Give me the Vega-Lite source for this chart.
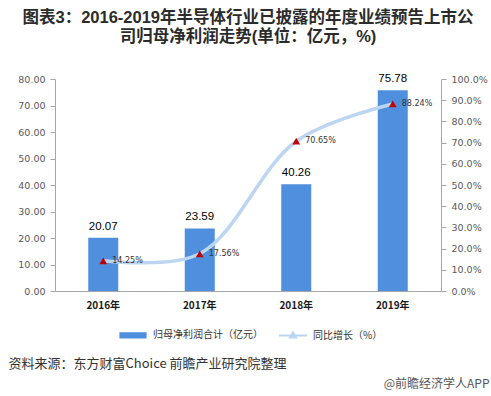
{
  "$schema": "https://vega.github.io/schema/vega-lite/v6.json",
  "width": 386,
  "height": 212,
  "autosize": {"type": "none"},
  "padding": {"left": 55, "top": 79, "right": 50, "bottom": 105},
  "background": "white",
  "config": {
    "view": {"stroke": null},
    "font": "Noto Sans CJK SC"
  },
  "title": {
    "text": ["图表3：2016-2019年半导体行业已披露的年度业绩预告上市公", "司归母净利润走势(单位：亿元，%)"],
    "font": "Liberation Sans, Noto Sans CJK SC",
    "fontSize": 16.5,
    "fontWeight": "bold",
    "color": "#2b2b2b",
    "lineHeight": 18.5,
    "anchor": "middle",
    "frame": "group",
    "offset": 28
  },
  "data": {
    "values": [
      {"year": "2016年", "profit": 20.07, "growth": 0.1425},
      {"year": "2017年", "profit": 23.59, "growth": 0.1756},
      {"year": "2018年", "profit": 40.26, "growth": 0.7065},
      {"year": "2019年", "profit": 75.78, "growth": 0.8824}
    ]
  },
  "layer": [
    {
      "encoding": {
        "x": {
          "field": "year", "type": "nominal", "sort": null,
          "scale": {"paddingInner": 0, "paddingOuter": 0},
          "axis": {
            "title": "资料来源：东方财富Choice 前瞻产业研究院整理",
            "titleFont": "Noto Sans CJK SC",
            "titleFontSize": 13,
            "titleFontWeight": "normal",
            "titleColor": "#333333",
            "titleAlign": "left",
            "titleBaseline": "middle",
            "titleAnchor": null,
            "titleX": -47,
            "titleY": 72,
            "labelAngle": 0,
            "labelFont": "Noto Sans CJK SC",
            "labelFontSize": 10,
            "labelFontWeight": "bold",
            "labelColor": "#1a1a1a",
            "labelPadding": 9,
            "ticks": false,
            "domainColor": "#a6a6a6",
            "domainWidth": 1
          }
        },
        "y": {
          "field": "profit", "type": "quantitative",
          "scale": {"domain": [0, 80], "nice": false},
          "axis": {
            "title": null,
            "values": [0, 10, 20, 30, 40, 50, 60, 70, 80],
            "format": ".2f",
            "grid": false,
            "labelOverlap": false,
            "labelFlush": false,
            "labelFont": "DejaVu Sans",
            "labelFontSize": 9.5,
            "labelColor": "#595959",
            "labelPadding": 5,
            "tickSize": 5,
            "tickColor": "#a6a6a6",
            "domainColor": "#a6a6a6"
          }
        }
      },
      "layer": [
        {
          "mark": {"type": "bar", "width": 30},
          "encoding": {
            "color": {
              "datum": "归母净利润合计（亿元）",
              "type": "nominal",
              "scale": {
                "domain": ["归母净利润合计（亿元）", "同比增长（%）"],
                "range": ["#4f8fdd", "#bcd5f0"]
              },
              "legend": {
                "title": null,
                "orient": "none",
                "direction": "horizontal",
                "legendX": 63,
                "legendY": 241,
                "symbolSize": 784,
                "labelFont": "Noto Sans CJK SC",
                "labelFontSize": 10,
                "labelColor": "#333333",
                "labelOffset": 5,
                "columnPadding": 12,
                "encode": {
                  "symbols": {
                    "update": {
                      "shape": {"signal": "datum.value === '归母净利润合计（亿元）' ? 'M-0.9,-0.15H0.9V0.15H-0.9Z' : 'M-1,0H1M-0.22,0.14L0,-0.22L0.22,0.14Z'"},
                      "fill": {"signal": "datum.value === '归母净利润合计（亿元）' ? '#4f8fdd' : '#c00000'"},
                      "stroke": {"signal": "datum.value === '归母净利润合计（亿元）' ? 'transparent' : '#bcd5f0'"},
                      "strokeWidth": {"value": 2},
                      "opacity": {"value": 1},
                      "fillOpacity": {"value": 1}
                    }
                  }
                }
              }
            }
          }
        },
        {
          "mark": {"type": "text", "dy": -11, "font": "Liberation Sans", "fontSize": 11.5, "color": "#000000"},
          "encoding": {
            "text": {"field": "profit", "type": "quantitative", "format": ".2f"}
          }
        }
      ]
    },
    {
      "encoding": {
        "x": {"field": "year", "type": "nominal", "sort": null},
        "y": {
          "field": "growth", "type": "quantitative",
          "scale": {"domain": [0, 1], "nice": false},
          "axis": {
            "orient": "right",
            "title": "@前瞻经济学人APP",
            "titleFont": "Noto Sans CJK SC",
            "titleFontSize": 12,
            "titleFontWeight": "normal",
            "titleColor": "#555555",
            "titleAngle": 0,
            "titleAlign": "right",
            "titleBaseline": "middle",
            "titleAnchor": null,
            "titleX": 48,
            "titleY": 304,
            "values": [0, 0.1, 0.2, 0.3, 0.4, 0.5, 0.6, 0.7, 0.8, 0.9, 1.0],
            "format": ".1%",
            "grid": false,
            "labelOverlap": false,
            "labelFlush": false,
            "labelFont": "DejaVu Sans",
            "labelFontSize": 9.5,
            "labelColor": "#595959",
            "labelPadding": 5,
            "tickSize": 5,
            "tickColor": "#a6a6a6",
            "domainColor": "#a6a6a6"
          }
        }
      },
      "layer": [
        {
          "mark": {"type": "line", "interpolate": "catmull-rom", "strokeWidth": 3.5, "strokeCap": "round"},
          "encoding": {
            "color": {"datum": "同比增长（%）", "type": "nominal"}
          }
        },
        {
          "mark": {"type": "point", "shape": "triangle-up", "filled": true, "size": 60, "color": "#c00000", "opacity": 1}
        },
        {
          "mark": {"type": "text", "dx": 9, "align": "left", "font": "DejaVu Sans", "fontSize": 8, "color": "#333333"},
          "encoding": {
            "text": {"field": "growth", "type": "quantitative", "format": ".2%"}
          }
        }
      ]
    }
  ],
  "resolve": {"scale": {"y": "independent"}}
}
